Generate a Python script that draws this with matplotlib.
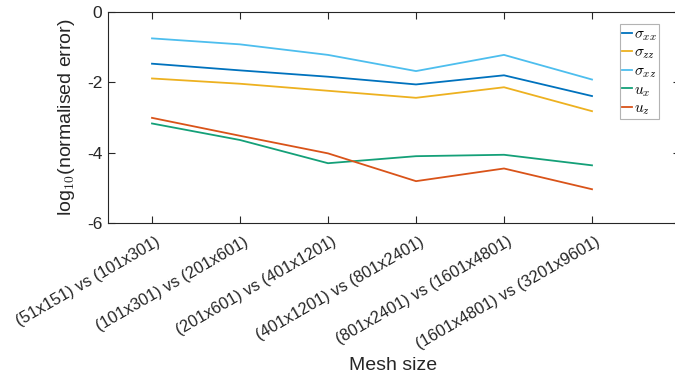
import numpy as np
import matplotlib
matplotlib.use("Agg")
import matplotlib.pyplot as plt
import matplotlib.transforms as mtransforms

plt.rcParams['font.family'] = ['Liberation Sans', 'DejaVu Sans']
plt.rcParams['mathtext.fontset'] = 'cm'

mesh_labels = [
    "(51x151) vs (101x301)",
    "(101x301) vs (201x601)",
    "(201x601) vs (401x1201)",
    "(401x1201) vs (801x2401)",
    "(801x2401) vs (1601x4801)",
    "(1601x4801) vs (3201x9601)",
]

# log10 of the normalised error for each field
sigma_xx = [-1.47, -1.66, -1.84, -2.06, -1.80, -2.39]
sigma_zz = [-1.89, -2.04, -2.24, -2.44, -2.14, -2.82]
sigma_xz = [-0.75, -0.92, -1.22, -1.68, -1.22, -1.92]
u_x = [-3.17, -3.64, -4.30, -4.10, -4.06, -4.36]
u_z = [-3.01, -3.52, -4.02, -4.81, -4.45, -5.04]

series = [
    (sigma_xx, r'$\sigma_{xx}$', '#0072BD'),
    (sigma_zz, r'$\sigma_{zz}$', '#EDB120'),
    (sigma_xz, r'$\sigma_{xz}$', '#4DBEEE'),
    (u_x, r'$u_x$', '#14A078'),
    (u_z, r'$u_z$', '#D95319'),
]

W, H = 675, 378
fig = plt.figure(figsize=(W / 100, H / 100), dpi=100)
# axes box runs a little past the right edge of the figure
ax = fig.add_axes([108 / W, 1 - 223 / H, 572 / W, 211 / H])

x = np.arange(1, len(mesh_labels) + 1)
for vals, name, col in series:
    ax.plot(x, vals, color=col, lw=1.3, label=name)

ax.set_xlim(0.5, 7)
ax.set_ylim(-6, 0)
ax.set_yticks([0, -2, -4, -6])
ax.set_yticklabels(['0', '-2', '-4', '-6'])
ax.set_xticks(x)
ax.set_xticklabels(mesh_labels, rotation=30, ha='right', va='top',
                   rotation_mode='anchor')
ax.tick_params(direction='in', length=5, width=0.8, colors='#262626',
               labelsize=12.5, top=True, right=True, pad=4)
ax.tick_params(axis='x', labelsize=11.8, pad=8)
shift = mtransforms.ScaledTranslation(3 / 100, 0, fig.dpi_scale_trans)
for lab in ax.get_xticklabels():
    lab.set_transform(lab.get_transform() + shift)
for sp in ax.spines.values():
    sp.set_color('#262626')
    sp.set_linewidth(0.8)

ax.set_ylabel(r'log$_{10}$(normalised error)', fontsize=14, color='#262626')
ax.yaxis.set_label_coords(-0.055, 0.5)
fig.text(393 / W, 1 - 366 / H, 'Mesh size', fontsize=14, color='#262626',
         ha='center', va='center')

leg = ax.legend(loc='upper left', bbox_to_anchor=(620 / W, 1 - 24 / H),
                bbox_transform=fig.transFigure, fontsize=11.2,
                handlelength=0.65, handletextpad=0.1, borderpad=0.15,
                labelspacing=0.12, borderaxespad=0, fancybox=False)
leg.get_frame().set_edgecolor('#A0A0A0')
leg.get_frame().set_linewidth(0.8)

fig.savefig('out.png', dpi=100)
